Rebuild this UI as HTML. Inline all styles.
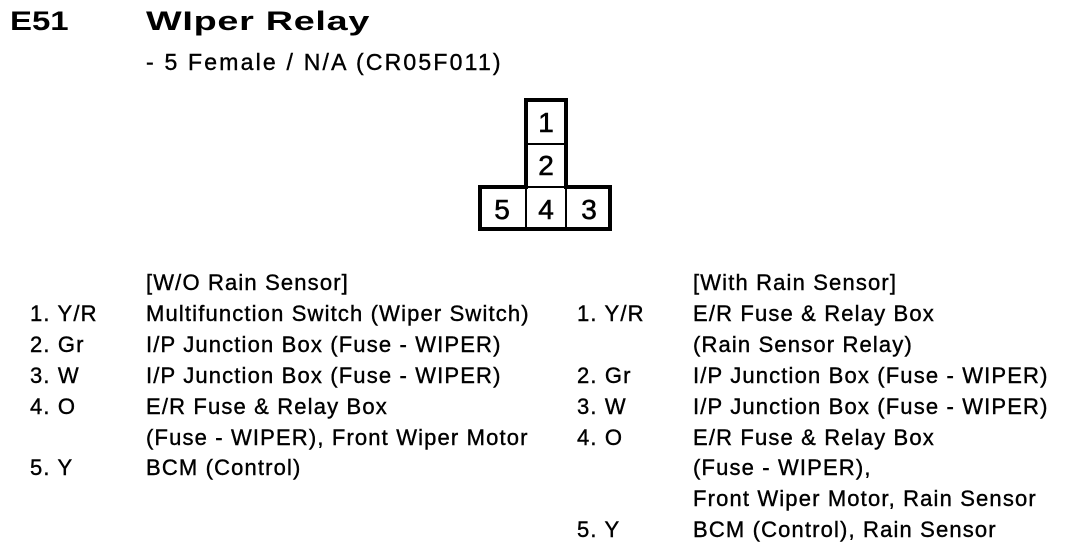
<!DOCTYPE html>
<html><head><style>
body{margin:0;width:1068px;height:560px;background:#fff;position:relative;overflow:hidden;font-family:"Liberation Sans",Arial,sans-serif;color:#000}
.t{position:absolute;font-size:22px;line-height:30px;white-space:nowrap;letter-spacing:1.15px;-webkit-text-stroke:0.4px #000}
.h{position:absolute;font-size:27px;font-weight:bold;line-height:34px;white-space:nowrap;transform-origin:0 0;transform:scaleX(1.22)}
</style></head><body>
<div class="h" style="left:10px;top:4px">E51</div>
<div class="h" style="left:146px;top:4px;transform:scaleX(1.4);letter-spacing:0.5px">WIper Relay</div>
<div class="t" style="left:146px;top:47px;font-size:23px;letter-spacing:2.2px">- 5 Female / N/A (CR05F011)</div>

<svg style="position:absolute;left:0;top:0" width="1068" height="560">
<g fill="none" stroke="#000">
<path d="M526 100 H566 V187 H610 V229 H480 V187 H526 Z" stroke-width="4"/>
<path d="M526 187 V229 M566 187 V229 M526 187 H566 M526 144 H566" stroke-width="2"/>
</g>
<g font-family="Liberation Sans, Arial, sans-serif" font-size="28" text-anchor="middle" stroke="#000" stroke-width="0.6">
<text x="546" y="132">1</text><text x="546" y="175">2</text>
<text x="502" y="219">5</text><text x="546" y="219">4</text><text x="589" y="219">3</text>
</g>
</svg>

<div class="t" style="left:146px;top:268px">[W/O Rain Sensor]</div>
<div class="t" style="left:30px;top:299px">1. Y/R</div><div class="t" style="left:146px;top:299px">Multifunction Switch (Wiper Switch)</div>
<div class="t" style="left:30px;top:330px">2. Gr</div><div class="t" style="left:146px;top:330px">I/P Junction Box (Fuse - WIPER)</div>
<div class="t" style="left:30px;top:361px">3. W</div><div class="t" style="left:146px;top:361px">I/P Junction Box (Fuse - WIPER)</div>
<div class="t" style="left:30px;top:392px">4. O</div><div class="t" style="left:146px;top:392px">E/R Fuse &amp; Relay Box</div>
<div class="t" style="left:146px;top:423px">(Fuse - WIPER), Front Wiper Motor</div>
<div class="t" style="left:30px;top:453px">5. Y</div><div class="t" style="left:146px;top:453px">BCM (Control)</div>

<div class="t" style="left:693px;top:268px">[With Rain Sensor]</div>
<div class="t" style="left:577px;top:299px">1. Y/R</div><div class="t" style="left:693px;top:299px">E/R Fuse &amp; Relay Box</div>
<div class="t" style="left:693px;top:330px">(Rain Sensor Relay)</div>
<div class="t" style="left:577px;top:361px">2. Gr</div><div class="t" style="left:693px;top:361px">I/P Junction Box (Fuse - WIPER)</div>
<div class="t" style="left:577px;top:392px">3. W</div><div class="t" style="left:693px;top:392px">I/P Junction Box (Fuse - WIPER)</div>
<div class="t" style="left:577px;top:423px">4. O</div><div class="t" style="left:693px;top:423px">E/R Fuse &amp; Relay Box</div>
<div class="t" style="left:693px;top:453px">(Fuse - WIPER),</div>
<div class="t" style="left:693px;top:484px">Front Wiper Motor, Rain Sensor</div>
<div class="t" style="left:577px;top:515px">5. Y</div><div class="t" style="left:693px;top:515px">BCM (Control), Rain Sensor</div>
</body></html>
